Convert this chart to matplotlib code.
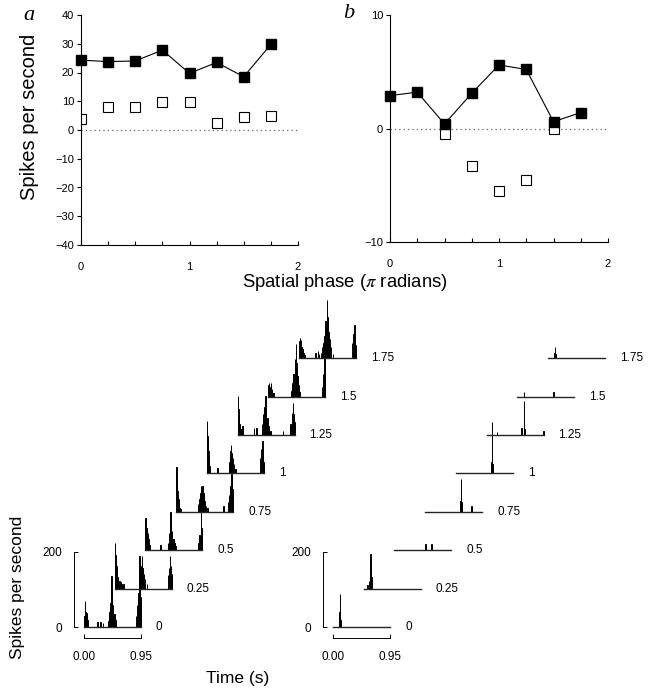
import numpy as np
import matplotlib
matplotlib.use('Agg')
import matplotlib.pyplot as plt

plt.rcParams['font.family'] = ['Liberation Sans', 'DejaVu Sans']
plt.rcParams['mathtext.fontset'] = 'stix'

# spatial phase (pi radians)
phase = [0, 0.25, 0.5, 0.75, 1, 1.25, 1.5, 1.75]
phase_labels = ['0', '0.25', '0.5', '0.75', '1', '1.25', '1.5', '1.75']

# panel a: mean rate (filled) and modulated component (open)
a_filled = [24.3, 23.8, 24.0, 27.8, 19.7, 23.5, 18.5, 29.8]
a_open = [3.8, 8.1, 8.1, 9.6, 9.6, 2.6, 4.6, 4.9]

# panel b
b_filled = [2.9, 3.2, 0.4, 3.1, 5.6, 5.2, 0.6, 1.4]
b_open = [np.nan, np.nan, -0.5, -3.3, -5.5, -4.5, 0.0, np.nan]

# PSTHs, 10 ms bins: (bin start in s, spikes per second), zero bins left out
psth_a = [
    [(0.00, 30), (0.01, 69), (0.02, 40), (0.03, 35), (0.04, 38), (0.05, 20), (0.06, 12),
     (0.22, 14), (0.27, 14), (0.31, 10),
     (0.40, 15), (0.42, 40), (0.44, 65), (0.45, 137), (0.46, 90), (0.47, 60), (0.48, 50),
     (0.50, 35), (0.52, 20),
     (0.86, 30), (0.88, 60), (0.90, 90), (0.92, 190), (0.93, 120), (0.94, 80)],
    [(0.00, 121), (0.01, 90), (0.02, 60), (0.03, 45), (0.04, 30), (0.05, 25), (0.07, 20),
     (0.09, 18), (0.11, 12), (0.14, 12),
     (0.40, 20), (0.42, 45), (0.44, 60), (0.45, 87), (0.46, 55), (0.48, 40), (0.50, 25),
     (0.53, 12),
     (0.88, 35), (0.90, 55), (0.92, 87), (0.93, 60), (0.94, 40)],
    [(0.00, 86), (0.01, 60), (0.02, 50), (0.03, 40), (0.04, 45), (0.05, 30), (0.06, 15),
     (0.25, 14),
     (0.37, 20), (0.39, 45), (0.41, 102), (0.42, 70), (0.44, 50), (0.46, 30), (0.48, 20),
     (0.50, 10),
     (0.88, 20), (0.90, 40), (0.92, 104), (0.93, 60), (0.94, 35)],
    [(0.00, 119), (0.01, 80), (0.02, 55), (0.03, 35), (0.04, 20), (0.05, 10), (0.07, 8),
     (0.36, 20), (0.38, 35), (0.40, 50), (0.41, 68), (0.42, 45), (0.43, 68), (0.45, 50),
     (0.47, 30), (0.49, 15), (0.52, 10),
     (0.78, 15),
     (0.86, 25), (0.88, 45), (0.90, 70), (0.92, 100), (0.93, 60), (0.94, 40)],
    [(0.00, 140), (0.01, 100), (0.02, 60), (0.03, 40), (0.04, 20), (0.05, 10),
     (0.17, 15),
     (0.37, 30), (0.39, 60), (0.40, 77), (0.41, 55), (0.43, 40), (0.45, 25), (0.47, 12),
     (0.88, 40), (0.90, 65), (0.92, 86), (0.93, 50), (0.94, 30)],
    [(0.00, 103), (0.01, 70), (0.02, 50), (0.03, 30), (0.04, 15),
     (0.08, 25), (0.27, 18), (0.31, 20),
     (0.40, 30), (0.42, 55), (0.44, 75), (0.46, 103), (0.47, 70), (0.49, 45), (0.51, 25),
     (0.54, 10), (0.75, 12),
     (0.88, 30), (0.90, 60), (0.92, 85), (0.93, 55), (0.94, 35)],
    [(0.00, 30), (0.01, 35), (0.02, 25), (0.04, 35), (0.06, 20), (0.08, 10),
     (0.38, 15), (0.40, 35), (0.42, 60), (0.44, 100), (0.46, 139), (0.47, 90), (0.48, 55),
     (0.50, 30), (0.52, 12),
     (0.89, 25), (0.91, 60), (0.93, 103), (0.94, 70)],
    [(0.00, 45), (0.01, 53), (0.02, 40), (0.03, 48), (0.04, 30), (0.05, 25), (0.07, 15),
     (0.09, 8), (0.27, 15), (0.31, 20), (0.33, 12),
     (0.36, 15), (0.38, 30), (0.40, 40), (0.42, 60), (0.44, 100), (0.46, 156), (0.47, 110),
     (0.49, 70), (0.51, 50), (0.53, 30), (0.56, 12),
     (0.88, 40), (0.90, 65), (0.92, 89), (0.93, 60), (0.94, 35)],
]

psth_b = [
    [(0.10, 40), (0.11, 88), (0.12, 20)],
    [(0.06, 10), (0.08, 20), (0.10, 36), (0.11, 93), (0.12, 30), (0.13, 10)],
    [(0.51, 16), (0.61, 16)],
    [(0.58, 30), (0.59, 87), (0.60, 25), (0.77, 15)],
    [(0.58, 20), (0.59, 30), (0.60, 138), (0.61, 25)],
    [(0.17, 9), (0.58, 20), (0.62, 91), (0.63, 15), (0.94, 10)],
    [(0.11, 13), (0.60, 12)],
    [(0.10, 15), (0.11, 31), (0.12, 10)],
]

W, H = 657, 690
fig = plt.figure(figsize=(W / 100, H / 100), dpi=100)


def box(left, top, right, bottom):
    return [left / W, 1 - bottom / H, (right - left) / W, (bottom - top) / H]


def tuning_axes(ax, lim, yticks):
    ax.set_xlim(0, 2)
    ax.set_ylim(*lim)
    for s in ['top', 'right']:
        ax.spines[s].set_visible(False)
    for s in ['left', 'bottom']:
        ax.spines[s].set_linewidth(0.8)
    ax.set_yticks(yticks)
    ax.set_xticks([0, 1, 2])
    ax.set_xticks(np.arange(0, 2.01, 0.25), minor=True)
    ax.tick_params(axis='y', direction='out', length=3, width=0.8, pad=2, labelsize=8)
    ax.tick_params(axis='x', which='both', direction='in', length=3, width=0.8,
                   pad=12, labelsize=8)
    ax.axhline(0, color='0.4', lw=0.9, ls=(0, (1, 2.5)))


# top panels
ax_a = fig.add_axes(box(81, 15, 298, 245))
tuning_axes(ax_a, (-40, 40), np.arange(-40, 41, 10))
ax_a.plot(phase, a_open, 's', ms=7.5, mfc='white', mec='black', mew=0.8)
ax_a.plot(phase, a_filled, 's-', color='black', ms=7.5, lw=0.8, clip_on=False)

ax_b = fig.add_axes(box(390, 15, 608, 242))
tuning_axes(ax_b, (-10, 10), [-10, 0, 10])
ax_b.plot(phase, b_open, 's', ms=7.5, mfc='white', mec='black', mew=0.8, clip_on=False)
ax_b.plot(phase, b_filled, 's-', color='black', ms=7.5, lw=0.8, clip_on=False)

fig.text(30 / W, 1 - 117 / H, 'Spikes per second', rotation=90, ha='center',
         va='center', fontsize=14.5)
fig.text(345 / W, 1 - 282 / H, r'Spatial phase ($\pi$ radians)', ha='center',
         va='center', fontsize=13.3)
fig.text(29 / W, 1 - 16 / H, 'a', family='Liberation Serif', style='italic',
         fontsize=16, ha='center', va='center')
fig.text(349 / W, 1 - 14 / H, 'b', family='Liberation Serif', style='italic',
         fontsize=16, ha='center', va='center')

# staggered PSTHs
dx, dy = 30.7, 38.4
for x0, psths in [(84, psth_a), (333, psth_b)]:
    for i, bars in enumerate(psths):
        left = x0 + i * dx
        base = 627 - i * dy
        ax = fig.add_axes(box(left, base - 75, left + 57, base))
        ax.patch.set_visible(False)
        ax.set_xlim(0, 0.95)
        ax.set_ylim(0, 200)
        t = [b[0] for b in bars]
        r = [b[1] for b in bars]
        ax.bar(t, r, width=0.01, align='edge', color='black', edgecolor='black',
               lw=0.7, clip_on=False)
        ax.axhline(0, color='0.15', lw=1.0, clip_on=False)
        ax.annotate(phase_labels[i], xy=(1, 0), xycoords='axes fraction',
                    xytext=(15, 0), textcoords='offset pixels', ha='left',
                    va='center', fontsize=8.5)
        for s in ['top', 'right']:
            ax.spines[s].set_visible(False)
        if i == 0:
            ax.spines['left'].set_position(('outward', 7))
            ax.spines['left'].set_bounds(0, 200)
            ax.spines['bottom'].set_position(('outward', 8))
            ax.spines['bottom'].set_bounds(0, 0.95)
            for s in ['left', 'bottom']:
                ax.spines[s].set_linewidth(0.7)
            ax.set_yticks([0, 200])
            ax.set_xticks([0, 0.95])
            ax.set_xticklabels(['0.00', '0.95'])
            ax.tick_params(direction='in', length=3, width=0.7, labelsize=8.5)
            ax.tick_params(axis='y', pad=9)
            ax.tick_params(axis='x', pad=9)
        else:
            ax.spines['left'].set_visible(False)
            ax.spines['bottom'].set_visible(False)
            ax.set_xticks([])
            ax.set_yticks([])

fig.text(18 / W, 1 - 587 / H, 'Spikes per second', rotation=90, ha='center',
         va='center', fontsize=12.5)
fig.text(238 / W, 1 - 679 / H, 'Time (s)', ha='center', va='center', fontsize=12.5)

fig.savefig('out.png', dpi=100)
